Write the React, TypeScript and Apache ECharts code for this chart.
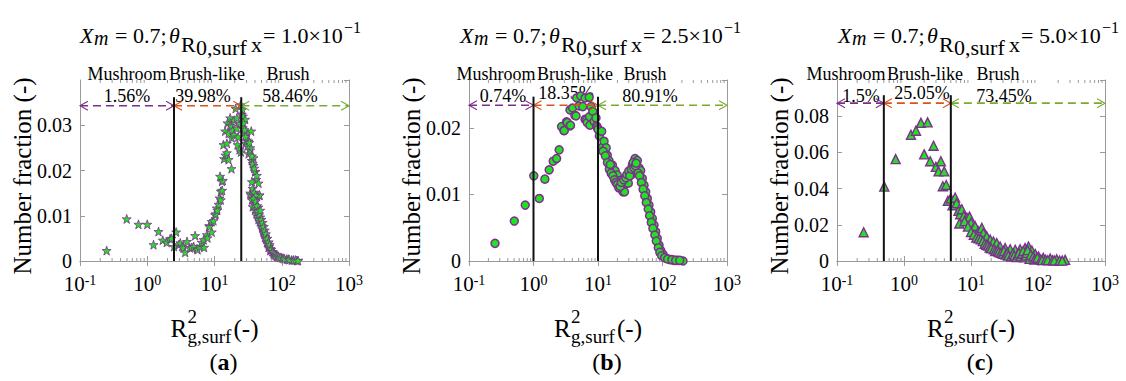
import React, { useEffect, useRef } from "react";
import * as echarts from "echarts";

// ---------- data ----------
const panelTags = ["a", "b", "c"];
const thetaValues = ["1.0", "2.5", "5.0"];
const regimeNames = ["Mushroom", "Brush-like", "Brush"];
const percentsA = ["1.56%", "39.98%", "58.46%"];
const percentsB = ["0.74%", "18.35%", "80.91%"];
const percentsC = ["1.5%", "25.05%", "73.45%"];
const boundariesA = [2.5, 25];
const boundariesB = [1, 10];
const boundariesC = [0.5, 5];
const arrowYA = 0.0343;
const arrowYB = 0.0234;
const arrowYC = 0.0872;
const lineTopA = 0.0362;
const lineTopB = 0.0247;
const lineTopC = 0.0916;
const yMaxA = 0.04;
const yMaxB = 0.0272;
const yMaxC = 0.1;
const yStepA = 0.01;
const yStepB = 0.01;
const yStepC = 0.02;
const xMin = 0.1;
const xMax = 1000;

const dataA: [number, number][] = [
  [0.249, 0.0023], [0.495, 0.0093], [0.74, 0.0081], [1.0, 0.0081], [1.24, 0.0036], [1.47, 0.0065],
  [1.7, 0.0046], [1.95, 0.0041], [2.19, 0.0049], [2.3, 0.005], [2.5, 0.0032], [2.69, 0.0064],
  [2.95, 0.0036], [3.1, 0.004], [3.3, 0.0032], [3.45, 0.0029], [3.66, 0.0019], [3.9, 0.0043],
  [4.3, 0.0029], [4.6, 0.003], [4.9, 0.0032], [5.15, 0.0056], [5.5, 0.0027], [5.6, 0.0025],
  [6.1, 0.0032], [6.47, 0.0041], [6.9, 0.0047], [7.0, 0.003], [7.7, 0.0058], [7.87, 0.0051],
  [8.34, 0.0078], [8.4, 0.0076], [9.1, 0.0064], [9.1, 0.0087], [9.66, 0.0089], [10.2, 0.0102],
  [10.4, 0.0104], [10.8, 0.0117], [11.0, 0.0112], [11.5, 0.0125], [11.9, 0.0139], [12.4, 0.0135],
  [12.4, 0.0154], [12.9, 0.0176], [13.0, 0.0156], [13.3, 0.0178], [12.1, 0.0187], [13.6, 0.0257],
  [13.9, 0.0226], [14.4, 0.0287], [14.5, 0.0234], [15.3, 0.026], [15.3, 0.0239], [15.6, 0.0305],
  [16.2, 0.0282], [16.2, 0.0224], [17.1, 0.03], [17.1, 0.0316], [17.9, 0.0204], [18.1, 0.0298],
  [18.1, 0.0272], [18.7, 0.0289], [19.6, 0.0311], [19.6, 0.0279], [20.6, 0.0337], [21.5, 0.0293],
  [21.5, 0.0316], [22, 0.0257], [22.5, 0.0274], [23.5, 0.0246], [24.1, 0.0304], [24.7, 0.0241],
  [25.5, 0.0324], [24.5, 0.0345], [26.4, 0.0294], [26.5, 0.032], [27.7, 0.0285], [28.6, 0.0313],
  [29.0, 0.026], [30.3, 0.0267], [30.3, 0.0283], [32, 0.0265], [32.1, 0.0237], [33.9, 0.0245],
  [34, 0.025], [34, 0.015], [34.7, 0.0146], [35.2, 0.0287], [35.7, 0.0222], [38, 0.0228],
  [38.1, 0.0211], [40.3, 0.0197], [40.3, 0.0198], [41.7, 0.018], [42.7, 0.0189], [42.7, 0.0145],
  [45.2, 0.0172], [45, 0.0119], [46.5, 0.0145], [46.7, 0.0146], [47.9, 0.0097], [50.6, 0.0078],
  [53.6, 0.0064], [56.8, 0.0052], [60.1, 0.0041], [63.7, 0.003], [67.4, 0.0023], [75.5, 0.0016],
  [84.8, 0.001], [100, 0.0007], [119, 0.0004], [141, 0.0002], [168, 0.0001],
  [26, 0.0335], [27, 0.0305], [28, 0.029], [29, 0.0275], [31, 0.0255], [33, 0.0262], [36, 0.0232],
  [37, 0.0215], [39, 0.0205], [36, 0.0175], [37, 0.016], [38, 0.0145], [39, 0.0152], [40, 0.0135],
  [41, 0.0145], [36, 0.0135], [37, 0.012], [38, 0.0138], [39, 0.0125], [40, 0.0112], [41, 0.0132],
  [42, 0.0105], [43, 0.0122], [44, 0.0098], [44, 0.011], [45, 0.0092], [46, 0.0104], [47, 0.0087],
  [48, 0.0112], [49, 0.0082], [50, 0.0092], [51, 0.0073], [52, 0.0085], [53, 0.0068], [54, 0.0076],
  [55, 0.0059], [56, 0.0068], [57, 0.0055], [58, 0.006], [59, 0.0048], [61, 0.005], [62, 0.0038],
  [64, 0.0042], [65, 0.0032], [66, 0.0036], [68, 0.0027], [70, 0.0026], [72, 0.0021], [74, 0.002],
  [77, 0.0017], [79, 0.0014], [82, 0.0012], [87, 0.0011], [90, 0.0009], [95, 0.0008], [105, 0.0006],
  [110, 0.0005], [125, 0.0004], [130, 0.0003], [150, 0.0002], [160, 0.0002], [175, 0.0001],
];

const dataB: [number, number][] = [
  [0.253, 0.00265], [0.504, 0.006], [0.745, 0.0084], [1.01, 0.0128], [1.23, 0.0094], [1.5, 0.0123],
  [1.75, 0.0137], [2.02, 0.015], [2.28, 0.0154], [2.5, 0.0167], [2.72, 0.0202], [2.96, 0.0196],
  [3.0, 0.0196], [3.25, 0.0209], [3.34, 0.0208], [3.68, 0.0227], [3.68, 0.0203], [3.75, 0.0204],
  [4.04, 0.023], [4.38, 0.0219], [4.56, 0.0218], [4.67, 0.0245], [5.1, 0.0233], [5.4, 0.0248],
  [5.8, 0.0232], [6.3, 0.0245], [6.3, 0.0213], [6.64, 0.0212], [6.8, 0.0208], [7.3, 0.0246],
  [7.4, 0.0217], [7.5, 0.0204], [7.8, 0.0232], [8.3, 0.0225], [8.7, 0.021], [9.3, 0.0215],
  [9.5, 0.0203], [9.76, 0.0201], [10.0, 0.0198], [10.5, 0.0188], [11.4, 0.0195], [11.7, 0.0171],
  [12.4, 0.018], [13.4, 0.017], [13.9, 0.0159], [14.8, 0.0151], [16.7, 0.0144], [18.4, 0.0136],
  [19.5, 0.0124], [19.9, 0.0129], [21.7, 0.0121], [22.9, 0.0109], [23.8, 0.0114], [24.4, 0.0104],
  [25.8, 0.0104], [26.9, 0.0116], [29.5, 0.0117], [32.1, 0.0129], [34.1, 0.0144], [37.5, 0.0154],
  [40.7, 0.0151], [43.3, 0.014], [45.9, 0.0136], [48.6, 0.0124], [51.7, 0.0114], [54.9, 0.0104],
  [58.1, 0.0094], [61.7, 0.0084], [65.6, 0.0074], [69.5, 0.0064], [73.8, 0.0054], [78.3, 0.0044],
  [83, 0.0034], [88.3, 0.0024], [93.7, 0.0016], [102, 0.001], [115, 0.0004], [130, 0.0002],
  [150, 0.0001], [170, 0.0001], [208, 0.0],
  [12, 0.0165], [13, 0.0158], [14, 0.0148], [15, 0.0138], [15.5, 0.0145], [16, 0.0132], [17, 0.0128],
  [18, 0.0122], [19, 0.0118], [20, 0.0115], [21, 0.011], [22, 0.0112], [23, 0.0118], [25, 0.0122],
  [27, 0.0125], [28, 0.013], [30, 0.0135], [31, 0.0128], [33, 0.0138], [35, 0.0148], [36, 0.014],
  [38, 0.0143], [39, 0.0147], [42, 0.0132], [44, 0.0128], [47, 0.0118], [50, 0.0108], [53, 0.0098],
  [56, 0.0088], [60, 0.0078], [63, 0.0068], [67, 0.0058], [71, 0.0049], [76, 0.0039], [80, 0.003],
  [86, 0.002], [91, 0.0013], [97, 0.0008], [108, 0.0005], [120, 0.0003], [140, 0.0002], [160, 0.0001],
  [185, 0.0001],
];

const dataC: [number, number][] = [
  [0.25, 0.0159], [0.508, 0.0411], [0.75, 0.0563], [1.27, 0.0697], [1.51, 0.072], [1.79, 0.0763],
  [2.25, 0.0766], [2.0, 0.0589], [2.76, 0.0637], [2.46, 0.0551], [2.99, 0.052], [3.28, 0.0495],
  [3.55, 0.0551], [3.98, 0.0495], [3.8, 0.0413], [4.27, 0.042], [4.52, 0.0333], [5.0, 0.0346],
  [5.3, 0.0308], [5.8, 0.0351], [6.1, 0.032], [6.5, 0.0277], [6.9, 0.0258], [7.3, 0.0286],
  [7.8, 0.0249], [6.7, 0.0207], [8.7, 0.0239], [9.5, 0.0245], [10.0, 0.0211], [10.6, 0.0174],
  [11.5, 0.0193], [12.9, 0.0164], [14.5, 0.0183], [15.3, 0.0155], [17.2, 0.0136], [19.3, 0.0118],
  [21.6, 0.0108], [24.2, 0.0099], [27.2, 0.008], [32.3, 0.0071], [38.4, 0.0065], [45.7, 0.0062],
  [54, 0.0065], [64.1, 0.0071], [72, 0.008], [81, 0.0058], [91, 0.0039], [102, 0.0024],
  [120, 0.0017], [152, 0.0013], [190, 0.0009], [254, 0.0006],
  [8, 0.022], [9, 0.019], [10, 0.016], [11, 0.0145], [12, 0.013], [13, 0.0125], [14, 0.012],
  [15, 0.011], [16, 0.0095], [17, 0.009], [18, 0.0085], [19, 0.0075], [20, 0.007], [22, 0.0065],
  [23, 0.0055], [25, 0.006], [26, 0.005], [28, 0.0045], [30, 0.004], [31, 0.0055], [33, 0.0035],
  [35, 0.0045], [36, 0.003], [40, 0.0025], [42, 0.004], [44, 0.003], [48, 0.0022], [50, 0.0035],
  [52, 0.0045], [55, 0.0025], [58, 0.004], [60, 0.0055], [62, 0.002], [66, 0.003], [68, 0.0045],
  [70, 0.006], [75, 0.0012], [78, 0.0035], [85, 0.0025], [88, 0.0008], [95, 0.0012], [98, 0.0018],
  [110, 0.0008], [115, 0.0005], [130, 0.0006], [140, 0.0004], [165, 0.0004], [175, 0.0003],
  [210, 0.0003], [230, 0.0002],
];

// ---------- styling / layout ----------
const SERIF = "Liberation Serif, Times New Roman, serif";
const PURPLE = "#7E2F8E";
const ORANGE = "#D95319";
const OLIVE = "#77AC30";
const FILL_GREEN = "#22E022";
const AXIS = "#9a9a9a";

const STAR =
  "path://M50,0 L61.8,35.1 L97.6,34.5 L69.1,56.7 L79.4,90.5 L50,70 L20.6,90.5 L30.9,56.7 L2.4,34.5 L38.2,35.1 Z";
const CHEV_LEFT = "path://M10,0 L0,5 L10,10";
const CHEV_RIGHT = "path://M0,0 L10,5 L0,10";

const grids = [
  { left: 80, top: 80, width: 269, height: 181 },
  { left: 469, top: 80, width: 258, height: 181 },
  { left: 837, top: 80, width: 268, height: 181 },
];

const panels = [
  { data: dataA, bounds: boundariesA, arrowY: arrowYA, lineTop: lineTopA, yMax: yMaxA, step: yStepA, pct: percentsA, symbol: STAR, size: 9, bw: 0.8,
    nameX: [127, 207, 288], pctPos: [[127, 96], [203, 96], [290, 96]], titleX: 80 },
  { data: dataB, bounds: boundariesB, arrowY: arrowYB, lineTop: lineTopB, yMax: yMaxB, step: yStepB, pct: percentsB, symbol: "circle", size: 8, bw: 1.5,
    nameX: [496, 575, 645], pctPos: [[503, 96], [566, 93], [650, 96]], titleX: 460 },
  { data: dataC, bounds: boundariesC, arrowY: arrowYC, lineTop: lineTopC, yMax: yMaxC, step: yStepC, pct: percentsC, symbol: "triangle", size: 9, bw: 1.4,
    nameX: [846, 925, 998], pctPos: [[861, 96], [922, 93], [1004, 96]], titleX: 838 },
];

const minorTicks: number[] = [];
for (const d of [0.1, 1, 10, 100]) for (let k = 2; k <= 9; k++) minorTicks.push(+(d * k).toPrecision(3));

function txt(x: number, base: number, text: string, size: number, extra: any = {}) {
  return {
    type: "text",
    x,
    y: base - 0.3375 * size,
    silent: true,
    style: {
      text,
      fontSize: size,
      fontFamily: SERIF,
      fill: "#000",
      align: "left",
      verticalAlign: "middle",
      ...extra,
    },
  };
}

function buildOption() {
  const xAxis: any[] = [];
  const yAxis: any[] = [];
  const series: any[] = [];
  const graphic: any[] = [];

  panels.forEach((p, i) => {
    const g = grids[i];
    const axisLine = { show: true, lineStyle: { color: AXIS, width: 1 } };
    const axisTick = { show: true, inside: true, length: 5, lineStyle: { color: AXIS } };
    xAxis.push({
      gridIndex: i, type: "log", logBase: 10, min: xMin, max: xMax, position: "bottom",
      axisLine, axisTick, splitLine: { show: false },
      axisLabel: {
        margin: 12,
        formatter: (v: number) => `{b|10}{s|${Math.round(Math.log10(v))}}`,
        rich: {
          b: { fontSize: 21, fontFamily: SERIF, color: "#000", lineHeight: 26, verticalAlign: "top" },
          s: { fontSize: 14, fontFamily: SERIF, color: "#000", lineHeight: 8, verticalAlign: "top" },
        },
      },
    });
    xAxis.push({
      gridIndex: i, type: "log", logBase: 10, min: xMin, max: xMax, position: "top",
      axisLine, axisTick, splitLine: { show: false }, axisLabel: { show: false },
    });
    yAxis.push({
      gridIndex: i, type: "value", min: 0, max: p.yMax, interval: p.step, position: "left",
      axisLine, axisTick, splitLine: { show: false },
      axisLabel: {
        margin: 8, fontSize: 20, lineHeight: 16, fontFamily: SERIF, color: "#000", showMaxLabel: false,
        formatter: (v: number) => (v === 0 ? "0" : String(+v.toFixed(3))),
      },
    });
    yAxis.push({
      gridIndex: i, type: "value", min: 0, max: p.yMax, interval: p.step, position: "right",
      axisLine, axisTick, splitLine: { show: false }, axisLabel: { show: false },
    });

    const xi = 2 * i;
    const yi = 2 * i;

    series.push({
      type: "custom", xAxisIndex: xi, yAxisIndex: yi, silent: true, z: 1,
      data: minorTicks.map((m) => [m, 0]),
      renderItem: (params: any, api: any) => {
        const x = api.coord([api.value(0), 0])[0];
        const cs = params.coordSys;
        return {
          type: "group",
          children: [
            { type: "line", shape: { x1: x, y1: cs.y + cs.height, x2: x, y2: cs.y + cs.height - 3 }, style: { stroke: AXIS, lineWidth: 1 } },
            { type: "line", shape: { x1: x, y1: cs.y, x2: x, y2: cs.y + 3 }, style: { stroke: AXIS, lineWidth: 1 } },
          ],
        };
      },
    });

    series.push({
      type: "scatter", xAxisIndex: xi, yAxisIndex: yi, z: 2,
      symbol: p.symbol, symbolSize: p.size,
      itemStyle: { color: FILL_GREEN, borderColor: PURPLE, borderWidth: p.bw, opacity: 1 },
      data: p.data,
    });

    const segs = [
      [xMin, p.bounds[0], PURPLE],
      [p.bounds[0], p.bounds[1], ORANGE],
      [p.bounds[1], xMax, OLIVE],
    ] as [number, number, string][];
    segs.forEach(([a, b, c]) => {
      series.push({
        type: "line", xAxisIndex: xi, yAxisIndex: yi, z: 3, silent: true,
        lineStyle: { color: c, width: 1.6, type: [8, 5] },
        itemStyle: { color: "transparent", borderColor: c, borderWidth: 1.1 },
        symbolKeepAspect: false,
        data: [
          { value: [a, p.arrowY], symbol: CHEV_LEFT, symbolSize: [8, 9], symbolOffset: [4, 0] },
          { value: [b, p.arrowY], symbol: CHEV_RIGHT, symbolSize: [8, 9], symbolOffset: [-4, 0] },
        ],
      });
    });

    p.bounds.forEach((bx) => {
      series.push({
        type: "line", xAxisIndex: xi, yAxisIndex: yi, z: 4, silent: true, symbol: "none",
        lineStyle: { color: "#111", width: 2 },
        data: [[bx, 0], [bx, p.lineTop]],
      });
    });

    // regime names and percentages
    regimeNames.forEach((n, k) => {
      graphic.push(txt(p.nameX[k], 80, n, 18, { align: "center", lineHeight: 16 }));
      graphic.push(txt(p.pctPos[k][0], p.pctPos[k][1] + 6, p.pct[k], 18, { align: "center", lineHeight: 16 }));
    });

    // title
    const t0 = p.titleX;
    graphic.push(txt(t0, 43, "X", 22, { fontStyle: "italic" }));
    graphic.push(txt(t0 + 14, 45, "m", 20, { fontStyle: "italic" }));
    graphic.push(txt(t0 + 35, 43, "= 0.7;", 22));
    graphic.push(txt(t0 + 89, 43, "θ", 22, { fontStyle: "italic" }));
    graphic.push(txt(t0 + 101, 52, "R", 22));
    graphic.push(txt(t0 + 116, 55, "0,surf", 22));
    graphic.push(txt(t0 + 171, 52, "x", 22));
    graphic.push(txt(t0 + 183, 43, `= ${thetaValues[i]}×10`, 22));
    graphic.push(txt(t0 + 264, 33, "−1", 16));

    // x axis name
    const cx = g.left + g.width / 2;
    graphic.push(txt(cx - 44, 337, "R", 25));
    graphic.push(txt(cx - 27, 323, "2", 19));
    graphic.push(txt(cx - 27, 343, "g,surf", 19));
    graphic.push(txt(cx + 19, 337, "(-)", 25));

    // panel tag
    graphic.push({
      type: "text", x: cx + 9, y: 362, silent: true,
      style: {
        text: `{n|(}{b|${panelTags[i]}}{n|)}`,
        align: "center", verticalAlign: "middle",
        rich: {
          n: { fontSize: 24, fontFamily: SERIF, fill: "#000" },
          b: { fontSize: 24, fontFamily: SERIF, fill: "#000", fontWeight: "bold" },
        },
      },
    });

    // y axis name
    graphic.push({
      type: "text", x: g.left - 58, y: 176, rotation: Math.PI / 2, silent: true,
      style: {
        text: "Number fraction (-)", fontSize: 25, fontFamily: SERIF, fill: "#000",
        align: "center", verticalAlign: "middle",
      },
    });
  });

  return {
    animation: false,
    backgroundColor: "#fff",
    grid: grids.map((g) => ({ ...g, show: false })),
    xAxis,
    yAxis,
    series,
    graphic,
  };
}

export default function App() {
  const ref = useRef<HTMLDivElement>(null);
  useEffect(() => {
    document.body.style.margin = "0";
    const chart = echarts.init(ref.current!, null, { renderer: "svg" });
    chart.setOption(buildOption() as any);
    return () => chart.dispose();
  }, []);
  return <div ref={ref} style={{ width: 1126, height: 381 }} />;
}
